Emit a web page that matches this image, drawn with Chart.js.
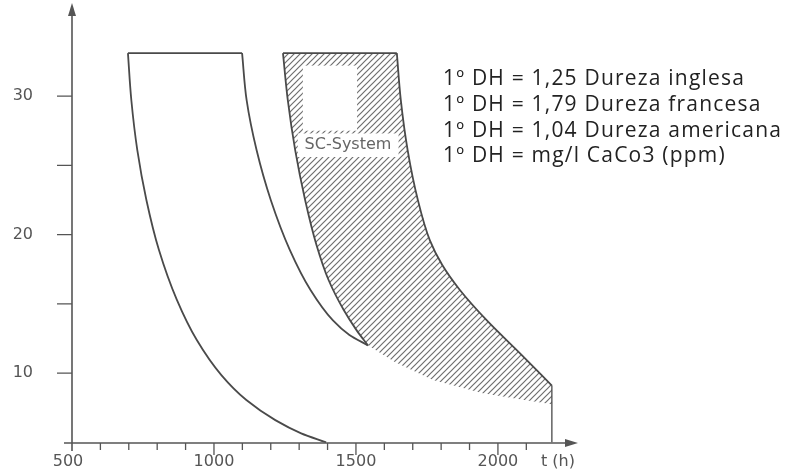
<!DOCTYPE html>
<html>
<head>
<meta charset="utf-8">
<script src="https://cdn.jsdelivr.net/npm/chart.js@4.4.1/dist/chart.umd.min.js"></script>
<style>
    html, body { margin: 0; padding: 0; background: #fff; }
    #wrap { width: 786px; height: 472px; position: relative; }
</style>
</head>
<body>
<div id="wrap"><canvas id="hardnessChart"></canvas></div>
<script>
// axis ticks
var xTicks = [500, 1000, 1500, 2000];
var xMinorTicks = [600, 700, 800, 900, 1100, 1200, 1300, 1400, 1600, 1700, 1800, 1900, 2100];
var yTicks = [10, 20, 30];
var yMinorTicks = [15, 25];
var xUnit = "t (h)";

// left curve (hardness vs. hours)
var leftT = [697, 709, 730, 762, 806, 869, 939, 1026, 1114, 1216, 1307, 1395];
var leftV = [33.1, 29.7, 26.1, 22.5, 18.9, 15.3, 12.4, 9.85, 8.05, 6.6, 5.65, 5];

// flat top of the left band
var plateauT = [697, 1099];
var plateauV = [33.1, 33.1];

// middle curve
var midT = [1099, 1115, 1150, 1200, 1267, 1340, 1419, 1477, 1542];
var midV = [33.1, 29.7, 26.1, 22.5, 18.9, 16.0, 13.8, 12.75, 12.0];

// SC-System band: top edge
var scTopT = [1243, 1644];
var scTopV = [33.1, 33.1];

// SC-System band: right edge
var scRightT = [1644, 1658, 1682, 1718, 1760, 1804, 1866, 1961, 2084, 2190];
var scRightV = [33.1, 29.7, 26.1, 22.5, 19.6, 17.8, 16.0, 13.8, 11.3, 9.1];

// SC-System band: left edge
var scLeftT = [1243, 1260, 1286, 1321, 1361, 1404, 1457, 1502, 1542];
var scLeftV = [33.1, 29.7, 26.1, 22.5, 19.25, 16.7, 14.55, 13.1, 12.0];

// SC-System band: open bottom of the hatching
var scBottomT = [1542, 1637, 1771, 1947, 2077, 2190];
var scBottomV = [12.0, 10.8, 9.5, 8.55, 8.1, 7.75];

// end of the band, down to the axis
var scEndT = [2190, 2190];
var scEndV = [9.1, 5];

var bandLabel = "SC-System";
var notes = [
    "1º DH = 1,25 Dureza inglesa",
    "1º DH = 1,79 Dureza francesa",
    "1º DH = 1,04 Dureza americana",
    "1º DH = mg/l CaCo3 (ppm)"
];

function pts(ts, vs) {
    return ts.map((t, i) => ({ x: t, y: vs[i] }));
}

function hatchPattern() {
    var c = document.createElement("canvas");
    c.width = 6;
    c.height = 6;
    var g = c.getContext("2d");
    g.strokeStyle = "#6f6f6f";
    g.lineWidth = 1.2;
    g.beginPath();
    g.moveTo(0, 6); g.lineTo(6, 0);
    g.moveTo(-1, 1); g.lineTo(1, -1);
    g.moveTo(5, 7); g.lineTo(7, 5);
    g.stroke();
    return g.createPattern(c, "repeat");
}

var lineColor = "#4a4a4a";
var axisColor = "#555";

// visible curve, interpolated along the value axis (curves are steep)
function curve(ts, vs) {
    return {
        data: pts(ts, vs),
        indexAxis: "y",
        borderColor: lineColor,
        borderWidth: 1.8,
        cubicInterpolationMode: "monotone",
        fill: false
    };
}

function straight(ts, vs, w) {
    return {
        data: pts(ts, vs),
        borderColor: lineColor,
        borderWidth: w || 1.8,
        fill: false
    };
}

var axesPlugin = {
    id: "axesPlugin",
    afterDatasetsDraw(chart) {
        var ctx = chart.ctx;
        var xs = chart.scales.x, ys = chart.scales.y;
        var x0 = xs.getPixelForValue(500);
        var y0 = ys.bottom;

        ctx.save();

        // white window and label inside the hatched band
        ctx.fillStyle = "#fff";
        var bx1 = xs.getPixelForValue(1313), bx2 = xs.getPixelForValue(1504);
        var by1 = ys.getPixelForValue(32.2), by2 = ys.getPixelForValue(27.5);
        ctx.fillRect(bx1, by1, bx2 - bx1, by2 - by1);
        var lx1 = xs.getPixelForValue(1295), lx2 = xs.getPixelForValue(1650);
        var ly1 = ys.getPixelForValue(27.3), ly2 = ys.getPixelForValue(25.6);
        ctx.fillRect(lx1, ly1, lx2 - lx1, ly2 - ly1);
        ctx.fillStyle = "#666";
        ctx.font = '16px "DejaVu Sans"';
        ctx.textAlign = "center";
        ctx.textBaseline = "middle";
        ctx.fillText(bandLabel, xs.getPixelForValue(1472), ys.getPixelForValue(26.45));

        // axes
        ctx.strokeStyle = axisColor;
        ctx.fillStyle = axisColor;
        ctx.lineWidth = 1.6;
        ctx.beginPath();
        ctx.moveTo(x0 - 8, y0);
        ctx.lineTo(xs.right - 8, y0);
        ctx.moveTo(x0, y0 + 8);
        ctx.lineTo(x0, ys.top + 8);
        ctx.stroke();

        ctx.beginPath();
        ctx.moveTo(xs.right, y0);
        ctx.lineTo(xs.right - 13, y0 - 4);
        ctx.lineTo(xs.right - 13, y0 + 4);
        ctx.closePath();
        ctx.fill();
        ctx.beginPath();
        ctx.moveTo(x0, ys.top);
        ctx.lineTo(x0 - 4, ys.top + 13);
        ctx.lineTo(x0 + 4, ys.top + 13);
        ctx.closePath();
        ctx.fill();

        ctx.lineWidth = 1.3;
        ctx.beginPath();
        xMinorTicks.forEach(t => {
            var px = xs.getPixelForValue(t);
            ctx.moveTo(px, y0);
            ctx.lineTo(px, y0 + 7);
        });
        xTicks.slice(1).forEach(t => {
            var px = xs.getPixelForValue(t);
            ctx.moveTo(px, y0);
            ctx.lineTo(px, y0 + 12);
        });
        yTicks.concat(yMinorTicks).forEach(v => {
            var py = ys.getPixelForValue(v);
            ctx.moveTo(x0 - 15, py);
            ctx.lineTo(x0, py);
        });
        ctx.stroke();

        // tick labels
        ctx.fillStyle = "#555";
        ctx.font = '16px "DejaVu Sans"';
        ctx.textAlign = "center";
        ctx.textBaseline = "middle";
        xTicks.forEach(t => {
            ctx.fillText(String(t), xs.getPixelForValue(t) - (t === 500 ? 4 : 0), 462);
        });
        ctx.fillText(xUnit, 558, 462);
        ctx.textAlign = "right";
        yTicks.forEach(v => {
            ctx.fillText(String(v), 33, ys.getPixelForValue(v));
        });

        // notes on the right
        ctx.fillStyle = "#222";
        ctx.font = '21px "Open Sans"';
        ctx.letterSpacing = "1.2px";
        ctx.textAlign = "left";
        notes.forEach((s, i) => {
            ctx.fillText(s, 443, 79 + i * 25.8);
        });

        ctx.restore();
    }
};

document.addEventListener("DOMContentLoaded", function () {
    var ctx = document.getElementById("hardnessChart").getContext("2d");
    var hatch = hatchPattern();

    // outline of the hatched area (straight chords, no border)
    var bandUpper = pts(scTopT.concat(scRightT.slice(1)), scTopV.concat(scRightV.slice(1)));
    var bandLower = pts(scLeftT.concat(scBottomT.slice(1)), scLeftV.concat(scBottomV.slice(1)));

    new Chart(ctx, {
        type: "line",
        data: {
            datasets: [
                curve(leftT, leftV),
                straight(plateauT, plateauV),
                curve(midT, midV),
                straight(scTopT, scTopV),
                curve(scRightT, scRightV),
                curve(scLeftT, scLeftV),
                straight(scEndT, scEndV, 1.3),
                {
                    data: bandUpper,
                    borderWidth: 0,
                    borderColor: "rgba(0,0,0,0)",
                    fill: false
                },
                {
                    data: bandLower,
                    borderWidth: 0,
                    borderColor: "rgba(0,0,0,0)",
                    backgroundColor: hatch,
                    fill: { target: 7 }
                }
            ]
        },
        options: {
            responsive: true,
            maintainAspectRatio: false,
            animation: false,
            layout: { padding: { left: 72, right: 208, top: 3, bottom: 29 } },
            elements: { point: { radius: 0, hoverRadius: 0 } },
            plugins: {
                legend: { display: false },
                tooltip: { enabled: false }
            },
            scales: {
                x: { type: "linear", min: 500, max: 2282, display: false },
                y: { type: "linear", min: 4.95, max: 36.72, display: false }
            }
        },
        plugins: [axesPlugin]
    });
});
</script>
</body>
</html>
